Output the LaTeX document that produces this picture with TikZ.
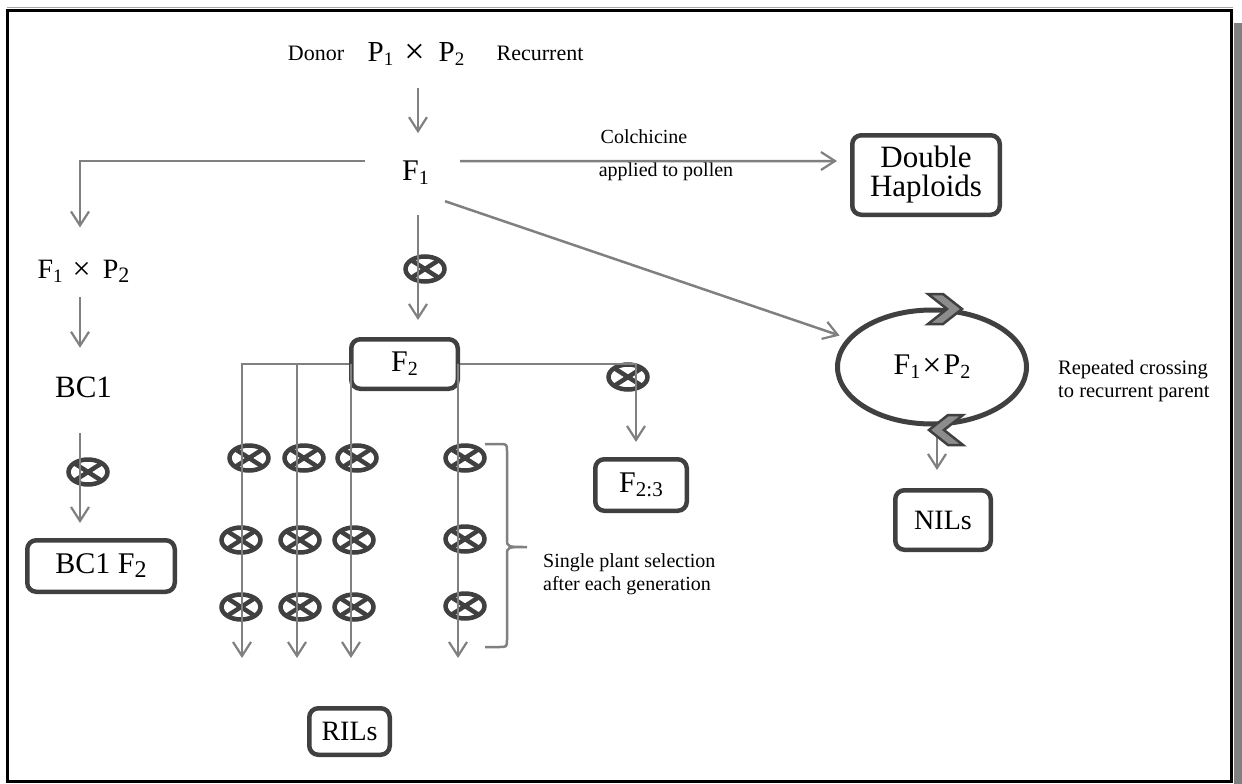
\documentclass[tikz,border=0pt]{standalone}
\usepackage{fontspec}
\setmainfont{Liberation Serif}
\usetikzlibrary{arrows.meta,shapes.geometric}
\definecolor{cgray}{HTML}{808080}
\definecolor{dgray}{HTML}{404040}
\definecolor{chevfill}{HTML}{8C8C8C}
\newcommand{\sbs}[2][20]{\raisebox{-4pt}{\fontsize{#1}{#1}\selectfont #2}}
\newcommand{\tms}[1][34]{\raisebox{-1.5pt}{\fontsize{#1}{#1}\selectfont ×}}
\begin{document}
\begin{tikzpicture}[x=1pt,y=-1pt,
  conn/.style={draw=cgray, line width=2.5pt, -{Straight Barb[length=14pt,width=18pt,line width=2.2pt]}},
  plain/.style={draw=cgray, line width=2.5pt},
  box/.style={draw=dgray, line width=4.5pt, rounded corners=9pt, fill=white, inner sep=0pt, align=center, font=\fontsize{30}{30}\selectfont},
  txt/.style={inner sep=0pt, font=\fontsize{30}{30}\selectfont},
  lbl/.style={inner sep=0pt, font=\fontsize{20}{23}\selectfont, align=left},
  selfx/.style={ellipse, draw=dgray, line width=4.5pt, minimum width=39pt, minimum height=25pt, inner sep=0pt,
    path picture={\draw[dgray, line width=4.5pt] (path picture bounding box.north west) -- (path picture bounding box.south east) (path picture bounding box.north east) -- (path picture bounding box.south west);}},
  chev/.style={fill=chevfill, draw=dgray, line width=2.5pt, line join=miter}
]
\useasboundingbox (0,0) rectangle (1242,784);
% frame
\draw[gray!70, line width=1pt] (7,8) -- (1233,8);
\draw[black, line width=3pt] (7.5,10.5) rectangle (1231.5,781);
\fill[cgray] (1234,23) rectangle (1242,784);

% selfing symbols
\node[selfx] (x0) at (425,269) {};
\node[selfx] (x1) at (88,472) {};
\node[selfx] (x2) at (628,377) {};
\node[selfx] (g11) at (249,458) {};
\node[selfx] (g12) at (304,458) {};
\node[selfx] (g13) at (357,458) {};
\node[selfx] (g14) at (465,458) {};
\node[selfx] (g21) at (241,540) {};
\node[selfx] (g22) at (300,540) {};
\node[selfx] (g23) at (354,540) {};
\node[selfx] (g24) at (465,539) {};
\node[selfx] (g31) at (241,607) {};
\node[selfx] (g32) at (300,607) {};
\node[selfx] (g33) at (354,607) {};
\node[selfx] (g34) at (465,606) {};

% top texts
\node[inner sep=0pt, anchor=base, font=\fontsize{22}{22}\selectfont] (donor) at (316,61) {Donor};
\node[inner sep=0pt, anchor=base, font=\fontsize{29}{29}\selectfont] (cross) at (416,62) {P\sbs[19]{1}\hspace{11pt}\tms[36]\hspace{14pt}P\sbs[19]{2}};
\node[inner sep=0pt, anchor=base, font=\fontsize{22}{22}\selectfont] (recur) at (540,61) {Recurrent};
\node[txt, anchor=base] (F1) at (415.5,180) {F\sbs{1}};

% boxes
\node[box, minimum width=147.5pt, minimum height=79.5pt, font=\fontsize{31}{29}\selectfont] (DH) at (926,175) {Double\\Haploids};
\node[box, minimum width=106.5pt, minimum height=49.5pt] (F2) at (404.5,364) {F\sbs{2}};
\node[box, minimum width=91.5pt, minimum height=51.5pt] (F23) at (641,485) {F\sbs[21]{2:3}};
\node[box, minimum width=147.5pt, minimum height=51.5pt] (BC1F2) at (101,566) {BC1 F\sbs[24]{2}};
\node[box, minimum width=80.5pt, minimum height=46.5pt, font=\fontsize{28}{28}\selectfont] (RILs) at (349.5,731.5) {RILs};
\node[box, minimum width=95.5pt, minimum height=59.5pt, font=\fontsize{28}{28}\selectfont] (NILs) at (943,520) {NILs};
\node[draw=dgray, line width=5pt, ellipse, minimum width=189pt, minimum height=114pt, inner sep=0pt, font=\fontsize{30}{30}\selectfont] (loop) at (932,367) {F\sbs{1}\hspace{2pt}\tms[34]\hspace{2pt}P\sbs{2}};

% left column texts
\node[inner sep=0pt, anchor=base, font=\fontsize{28}{28}\selectfont] (F1P2) at (83.5,278) {F\sbs[19]{1}\hspace{10pt}\tms[32]\hspace{12pt}P\sbs[22]{2}};
\node[txt, anchor=base, font=\fontsize{31}{31}\selectfont] (BC1) at (83.5,397) {BC1};

% labels
\node[lbl, anchor=base] (colch) at (644,143) {Colchicine};
\node[lbl, anchor=base] (appl) at (666,176) {applied to pollen};
\node[lbl, anchor=north west] (spsel) at (543,553.5) {Single plant selection\\after each generation};
\node[lbl, anchor=north west, font=\fontsize{20.5}{23}\selectfont] (rep) at (1058,360) {Repeated crossing\\to recurrent parent};

% connectors from F1
\draw[conn] ([shift={(2,22)}]cross.south) -- ([shift={(2.5,-27)}]F1.north);
\draw[conn, shorten >=32pt] ([shift={(-37,-11)}]F1.west) -| ([xshift=-3.5pt]F1P2.north);
\draw[conn] ([shift={(31,-11)}]F1.east) -- ([shift={(-13,-14)}]DH.west);
\draw[conn, shorten >=8pt] ([shift={(16,17)}]F1.south east) -- (loop);
\draw[conn] ([shift={(2.5,31)}]F1.south) -- ([shift={(13.5,-17)}]F2.north);

% F2 branches
\coordinate (c1) at (242,658);
\coordinate (c2) at (297,658);
\coordinate (c3) at (351,658);
\coordinate (c4) at (458,658);
\draw[conn] (F2.west) -| (c1);
\draw[conn] (F2.west) -| (c2);
\draw[conn] (F2.west -| c3) -- (c3);
\draw[conn] (F2.east -| c4) -- (c4);
\draw[conn, shorten >=15pt] (F2.east) -| ([xshift=-5pt]F23.north);

% brace
\draw[plain] (485,444) -- (499,444) .. controls (507,444) .. (507,452) -- (507,539) .. controls (507,547) .. (527,547)
  (527,547) .. controls (507,547) .. (507,555) -- (507,639) .. controls (507,647) .. (499,647) -- (485,647);

% left column connectors
\draw[conn] ([shift={(-3.5,15)}]F1P2.south) -- ([shift={(-3.5,-28.5)}]BC1.north);
\draw[conn] ([shift={(-3.5,35)}]BC1.south) -- ([shift={(-21,-15)}]BC1F2.north);

% loop to NILs
\draw[conn, shorten >=18pt] ([xshift=5pt]loop.south) -- ([xshift=-6pt]NILs.north);

% chevrons on the loop
\draw[chev, shift={(945,309)}] (-17,-15) -- (-2,-15) -- (17,0) -- (-2,15) -- (-17,15) -- (2,0) -- cycle;
\draw[chev, shift={(946,430)}] (17,-15) -- (2,-15) -- (-17,0) -- (2,15) -- (17,15) -- (-2,0) -- cycle;
\end{tikzpicture}
\end{document}
